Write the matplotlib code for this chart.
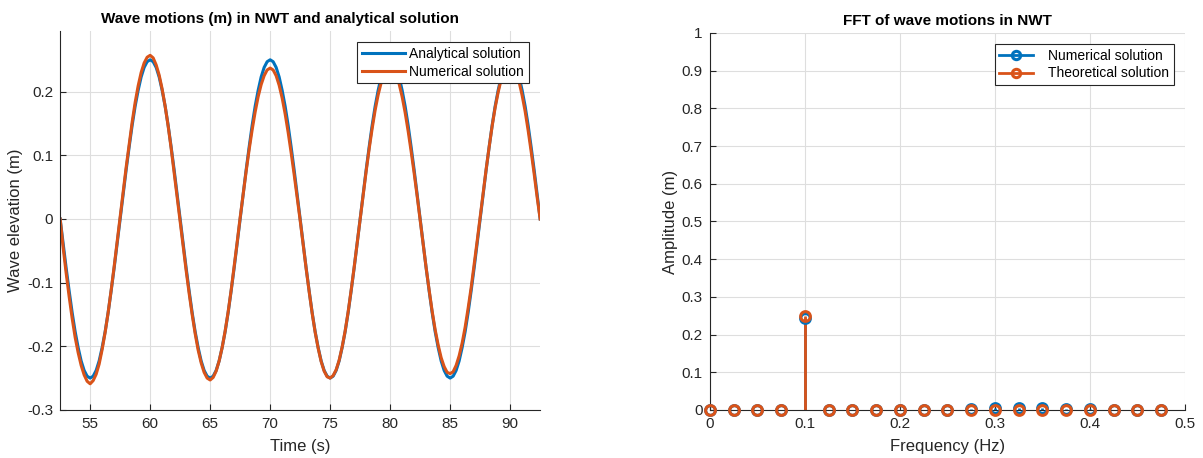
import matplotlib.pyplot as plt
import numpy as np
from matplotlib.legend_handler import HandlerLine2D
from matplotlib.lines import Line2D

plt.rcParams['font.family'] = ['Liberation Sans', 'DejaVu Sans']

# wave record, sampled every 0.25 s from 52.5 s to 92.5 s (one row per half wave)
t_start = 52.5
dt = 0.25
analytical = [
    0.000, -0.039, -0.077, -0.113, -0.147, -0.177, -0.202, -0.223, -0.238, -0.247,
    -0.250, -0.247, -0.238, -0.223, -0.202, -0.177, -0.147, -0.113, -0.077, -0.039,
    0.000, 0.039, 0.077, 0.113, 0.147, 0.177, 0.202, 0.223, 0.238, 0.247,
    0.250, 0.247, 0.238, 0.223, 0.202, 0.177, 0.147, 0.113, 0.077, 0.039,
    0.000, -0.039, -0.077, -0.113, -0.147, -0.177, -0.202, -0.223, -0.238, -0.247,
    -0.250, -0.247, -0.238, -0.223, -0.202, -0.177, -0.147, -0.113, -0.077, -0.039,
    0.000, 0.039, 0.077, 0.113, 0.147, 0.177, 0.202, 0.223, 0.238, 0.247,
    0.250, 0.247, 0.238, 0.223, 0.202, 0.177, 0.147, 0.113, 0.077, 0.039,
    0.000, -0.039, -0.077, -0.113, -0.147, -0.177, -0.202, -0.223, -0.238, -0.247,
    -0.250, -0.247, -0.238, -0.223, -0.202, -0.177, -0.147, -0.113, -0.077, -0.039,
    0.000, 0.039, 0.077, 0.113, 0.147, 0.177, 0.202, 0.223, 0.238, 0.247,
    0.250, 0.247, 0.238, 0.223, 0.202, 0.177, 0.147, 0.113, 0.077, 0.039,
    0.000, -0.039, -0.077, -0.113, -0.147, -0.177, -0.202, -0.223, -0.238, -0.247,
    -0.250, -0.247, -0.238, -0.223, -0.202, -0.177, -0.147, -0.113, -0.077, -0.039,
    0.000, 0.039, 0.077, 0.113, 0.147, 0.177, 0.202, 0.223, 0.238, 0.247,
    0.250, 0.247, 0.238, 0.223, 0.202, 0.177, 0.147, 0.113, 0.077, 0.039,
    0.000,
]
numerical = [
    0.000, -0.045, -0.085, -0.122, -0.156, -0.186, -0.210, -0.230, -0.245, -0.255,
    -0.259, -0.254, -0.244, -0.228, -0.205, -0.178, -0.147, -0.112, -0.075, -0.036,
    0.003, 0.042, 0.081, 0.117, 0.152, 0.183, 0.209, 0.230, 0.245, 0.254,
    0.257, 0.253, 0.242, 0.226, 0.204, 0.177, 0.146, 0.111, 0.073, 0.035,
    -0.004, -0.043, -0.081, -0.117, -0.150, -0.180, -0.206, -0.226, -0.241, -0.250,
    -0.253, -0.249, -0.239, -0.223, -0.202, -0.176, -0.146, -0.112, -0.075, -0.037,
    0.002, 0.039, 0.075, 0.109, 0.140, 0.168, 0.192, 0.211, 0.225, 0.234,
    0.237, 0.234, 0.225, 0.210, 0.190, 0.165, 0.136, 0.104, 0.070, 0.034,
    -0.002, -0.040, -0.078, -0.114, -0.148, -0.178, -0.203, -0.224, -0.239, -0.248,
    -0.250, -0.246, -0.237, -0.222, -0.201, -0.176, -0.146, -0.112, -0.076, -0.038,
    0.001, 0.038, 0.075, 0.110, 0.142, 0.171, 0.195, 0.214, 0.228, 0.237,
    0.240, 0.236, 0.227, 0.212, 0.192, 0.167, 0.138, 0.106, 0.072, 0.036,
    -0.002, -0.040, -0.077, -0.112, -0.145, -0.174, -0.198, -0.218, -0.232, -0.241,
    -0.243, -0.240, -0.230, -0.215, -0.195, -0.170, -0.140, -0.108, -0.072, -0.035,
    0.003, 0.041, 0.078, 0.113, 0.146, 0.175, 0.199, 0.219, 0.234, 0.242,
    0.245, 0.241, 0.231, 0.215, 0.194, 0.169, 0.139, 0.106, 0.071, 0.034,
    0.000,
]
time = t_start + dt * np.arange(len(analytical))

# FFT amplitudes
freq = [0, 0.025, 0.05, 0.075, 0.1, 0.125, 0.15, 0.175, 0.2, 0.225,
        0.25, 0.275, 0.3, 0.325, 0.35, 0.375, 0.4, 0.425, 0.45, 0.475]
amp_num = [0, 0, 0, 0.001, 0.245, 0, 0, 0, 0.001, 0.001,
           0.001, 0.002, 0.004, 0.006, 0.005, 0.002, 0.002, 0.001, 0.001, 0.001]
amp_theo = [0, 0, 0, 0, 0.25, 0, 0, 0, 0, 0,
            0, 0, 0, 0, 0, 0, 0, 0, 0, 0]

blue = '#0072BD'
orange = '#D95319'
axc = '#262626'


class StemHandler(HandlerLine2D):
    # MATLAB-style stem legend: line with the marker at its right end
    def get_xdata(self, legend, xdescent, ydescent, width, height, fontsize):
        return [-xdescent, -xdescent + width], [-xdescent + width]


def style(ax):
    for s in ['top', 'right']:
        ax.spines[s].set_visible(False)
    for s in ['left', 'bottom']:
        ax.spines[s].set_color(axc)
        ax.spines[s].set_linewidth(0.8)
    ax.tick_params(colors=axc, labelsize=11, direction='in', length=4, pad=5)
    ax.grid(True, color='#dedede', linewidth=0.8)
    ax.set_axisbelow(True)


fig = plt.figure(figsize=(12.03, 4.58), dpi=100)

ax1 = fig.add_axes([0.050, 0.105, 0.399, 0.827])
ax1.plot(time, analytical, color=blue, lw=2.2, label='Analytical solution')
ax1.plot(time, numerical, color=orange, lw=2.2, label='Numerical solution')
ax1.set_xlim(52.5, 92.5)
ax1.set_ylim(-0.3, 0.295)
ax1.set_xticks([55, 60, 65, 70, 75, 80, 85, 90])
ax1.set_yticks([-0.3, -0.2, -0.1, 0, 0.1, 0.2])
ax1.set_yticklabels(['-0.3', '-0.2', '-0.1', '0', '0.1', '0.2'])
style(ax1)
ax1.set_xlabel('Time (s)', fontsize=12, color=axc, labelpad=6)
ax1.set_ylabel('Wave elevation (m)', fontsize=12, color=axc, labelpad=3)
ax1.set_title('Wave motions (m) in NWT and analytical solution', fontsize=11,
              fontweight='bold', pad=6, x=0.458)
leg1 = ax1.legend(loc='upper right', fontsize=10, frameon=True, fancybox=False,
                  framealpha=1, edgecolor=axc, borderaxespad=0.8, handlelength=3.1,
                  handletextpad=0.35, borderpad=0.35, labelspacing=0.25)
leg1.get_frame().set_linewidth(0.8)

ax2 = fig.add_axes([0.590, 0.105, 0.395, 0.823])
for vals, col in [(amp_num, blue), (amp_theo, orange)]:
    ml, sl, bl = ax2.stem(freq, vals, basefmt=' ')
    plt.setp(sl, color=col, linewidth=2)
    plt.setp(ml, color=col, marker='o', markerfacecolor='none',
             markeredgewidth=2.2, markersize=7, clip_on=False, zorder=3)
    bl.set_visible(False)
ax2.set_xlim(0, 0.5)
ax2.set_ylim(0, 1)
ax2.set_xticks(np.arange(0, 0.51, 0.1))
ax2.set_xticklabels(['0', '0.1', '0.2', '0.3', '0.4', '0.5'])
ax2.set_yticks(np.arange(0, 1.01, 0.1))
ax2.set_yticklabels(['0', '0.1', '0.2', '0.3', '0.4', '0.5', '0.6', '0.7', '0.8', '0.9', '1'])
style(ax2)
ax2.set_xlabel('Frequency (Hz)', fontsize=12, color=axc, labelpad=6)
ax2.set_ylabel('Amplitude (m)', fontsize=12, color=axc, labelpad=3)
ax2.set_title('FFT of wave motions in NWT', fontsize=11, fontweight='bold', pad=6)
h1 = Line2D([0], [0], color=blue, lw=2, marker='o', mfc='none', mew=2.2, ms=6)
h2 = Line2D([0], [0], color=orange, lw=2, marker='o', mfc='none', mew=2.2, ms=6)
leg2 = ax2.legend([h1, h2], ['Numerical solution', 'Theoretical solution'],
                  loc='upper right', fontsize=10, frameon=True, fancybox=False,
                  framealpha=1, edgecolor=axc, borderaxespad=0.8, handlelength=2.4,
                  handletextpad=1.1, borderpad=0.35, labelspacing=0.25,
                  handler_map={Line2D: StemHandler()})
leg2.get_frame().set_linewidth(0.8)

fig.savefig('out.png', dpi=100)
